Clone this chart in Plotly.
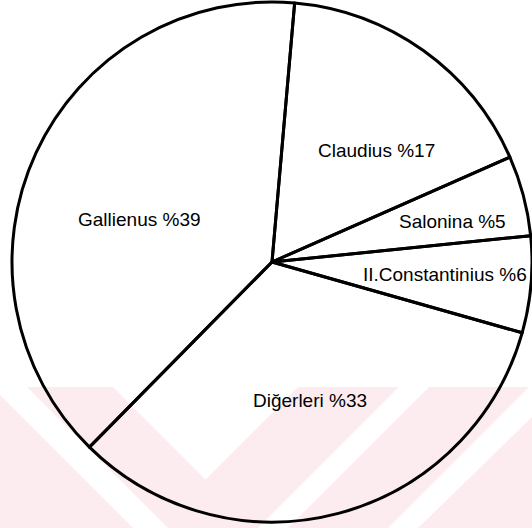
import plotly.graph_objects as go

# ---- data ----
names = ["Claudius", "Salonina", "II.Constantinius", "Diğerleri", "Gallienus"]
percents = [17, 5, 6, 33, 39]
label_texts = [f"{n} %{p}" for n, p in zip(names, percents)]

W, H = 532, 528

# label centres in pixel coords (layout)
label_px = [(376, 150), (452, 222), (445, 274.5), (310, 400), (139.5, 219.5)]

def px(x, y):
    return x / W, 1 - y / H

def path(points):
    s = ""
    for i, (x, y) in enumerate(points):
        X, Y = px(x, y)
        s += ("M" if i == 0 else "L") + f"{X:.5f},{Y:.5f} "
    return s + "Z"

PINK = "#fdecef"
shapes = []
# watermark base band
shapes.append(dict(type="path", path=path([(0, 387), (W, 387), (W, H), (0, H)]),
                   fillcolor=PINK, line=dict(width=0), layer="below", xref="paper", yref="paper"))
white_polys = [
    [(0, 387), (27, 387), (168, H), (133, H), (0, 395)],
    [(113, 387), (298, 387), (205.5, 479.5)],
    [(399, 387), (429, 387), (288, H), (258, H)],
    [(529, 387), (W, 387), (W, 417), (418, H), (388, H)],
]
for poly in white_polys:
    shapes.append(dict(type="path", path=path(poly), fillcolor="white",
                       line=dict(width=0), layer="below", xref="paper", yref="paper"))

fig = go.Figure(go.Pie(
    labels=names,
    values=percents,
    sort=False,
    direction="clockwise",
    rotation=5,
    textinfo="none",
    hoverinfo="skip",
    marker=dict(colors=["rgba(0,0,0,0)"] * len(names), line=dict(color="black", width=3)),
    domain=dict(x=[12 / W, 1.0], y=[6 / H, 526 / H]),
    showlegend=False,
))

annotations = []
for t, (x, y) in zip(label_texts, label_px):
    X, Y = px(x, y)
    annotations.append(dict(text=t, x=X, y=Y, xref="paper", yref="paper",
                            showarrow=False, xanchor="center", yanchor="middle",
                            font=dict(family="Liberation Sans, Arial, sans-serif", size=19, color="black")))

fig.update_layout(
    width=W, height=H,
    margin=dict(l=0, r=0, t=0, b=0),
    paper_bgcolor="white",
    plot_bgcolor="white",
    shapes=shapes,
    annotations=annotations,
)

fig.write_html("out.html", config={"displayModeBar": False},
               post_script="document.body.style.margin='0';document.body.style.overflow='hidden';")
